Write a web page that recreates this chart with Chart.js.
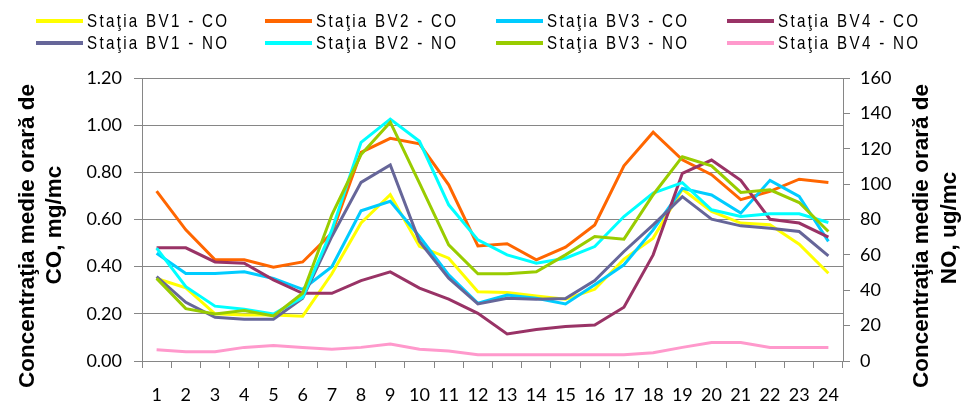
<!DOCTYPE html>
<html>
<head>
<meta charset="utf-8">
<script src="https://cdn.jsdelivr.net/npm/chart.js@4.4.1/dist/chart.umd.min.js"></script>
<style>
    body { margin: 0; background: #fff; }
    #wrap { position: relative; width: 962px; height: 405px; }
    #legend { position: absolute; left: 0; top: 0; width: 962px; height: 60px; }
    .item {
        position: absolute;
        display: flex;
        align-items: center;
        height: 20px;
        color: #000;
        white-space: nowrap;
    }
    .swatch { width: 47px; height: 4px; margin-right: 4px; }
    .text {
        display: inline-block;
        font: 18.5px "Liberation Sans", Arial, sans-serif;
        letter-spacing: 2.8px;
        transform: scaleX(0.82);
        transform-origin: left center;
    }
</style>
</head>
<body>
<div id="wrap">
    <canvas id="chart" width="962" height="405"></canvas>
    <div id="legend"></div>
</div>
<script>
const hours = ["1", "2", "3", "4", "5", "6", "7", "8", "9", "10", "11", "12",
    "13", "14", "15", "16", "17", "18", "19", "20", "21", "22", "23", "24"];

// CO, mg/mc (left axis)
const bv1Co = [0.35, 0.31, 0.20, 0.195, 0.195, 0.19, 0.37, 0.585, 0.705, 0.486, 0.436, 0.294,
    0.29, 0.276, 0.262, 0.304, 0.432, 0.521, 0.728, 0.634, 0.585, 0.578, 0.495, 0.372];
const bv2Co = [0.72, 0.556, 0.429, 0.429, 0.398, 0.42, 0.542, 0.885, 0.944, 0.921, 0.747, 0.488,
    0.497, 0.429, 0.483, 0.577, 0.828, 0.97, 0.853, 0.79, 0.684, 0.719, 0.771, 0.757];
const bv3Co = [0.457, 0.371, 0.371, 0.378, 0.35, 0.304, 0.40, 0.637, 0.677, 0.528, 0.365, 0.245,
    0.28, 0.266, 0.242, 0.323, 0.408, 0.556, 0.732, 0.704, 0.627, 0.766, 0.698, 0.507];
const bv4Co = [0.48, 0.48, 0.42, 0.415, 0.344, 0.287, 0.287, 0.341, 0.378, 0.309, 0.262, 0.202,
    0.115, 0.134, 0.146, 0.153, 0.228, 0.45, 0.796, 0.852, 0.766, 0.601, 0.585, 0.525];

// NO, ug/mc (right axis)
const bv1No = [47.7, 33.2, 24.7, 23.6, 23.6, 35.5, 70.4, 101, 110.8, 67.6, 46.8, 32.3,
    35.5, 34.9, 35.3, 45.5, 61.9, 77, 92.9, 80.2, 76.4, 75.1, 73.2, 59.4];
const bv2No = [63.8, 42, 31, 29.3, 26.6, 36, 74, 123.6, 136.8, 124.2, 88.3, 68.5,
    60, 55.3, 58.1, 64.7, 81.7, 94.9, 100.8, 85.5, 81.7, 83.2, 83.2, 78.3];
const bv3No = [46.7, 29.6, 26.6, 28.5, 25.5, 38.3, 82.7, 116.7, 135, 100.6, 65.7, 49.3,
    49.3, 50.4, 60, 70.4, 68.9, 94, 115.5, 110.3, 95.3, 96.8, 89.6, 73.2];
const bv4No = [6.4, 5.3, 5.3, 7.7, 8.7, 7.7, 6.6, 7.7, 9.6, 6.6, 5.7, 3.6,
    3.6, 3.6, 3.6, 3.6, 3.6, 4.7, 7.7, 10.4, 10.4, 7.7, 7.7, 7.7];

const coTicks = [0, 0.2, 0.4, 0.6, 0.8, 1.0, 1.2];
const noTicks = [0, 20, 40, 60, 80, 100, 120, 140, 160];

const coTitle = ["Concentraţia medie orară de", "CO, mg/mc"];
const noTitle = ["Concentraţia medie orară de", "NO, ug/mc"];

const series = [
    { label: "Staţia BV1 - CO", data: bv1Co, color: "#FFFF00", axis: "yCo" },
    { label: "Staţia BV2 - CO", data: bv2Co, color: "#FF6600", axis: "yCo" },
    { label: "Staţia BV3 - CO", data: bv3Co, color: "#00CCFF", axis: "yCo" },
    { label: "Staţia BV4 - CO", data: bv4Co, color: "#993366", axis: "yCo" },
    { label: "Staţia BV1 - NO", data: bv1No, color: "#666699", axis: "yNo" },
    { label: "Staţia BV2 - NO", data: bv2No, color: "#00FFFF", axis: "yNo" },
    { label: "Staţia BV3 - NO", data: bv3No, color: "#99CC00", axis: "yNo" },
    { label: "Staţia BV4 - NO", data: bv4No, color: "#FF99CC", axis: "yNo" }
];

const gridGrey = "#868686";
const tickFont = { family: "Lato", size: 18 };

// legend, 4 columns x 2 rows like the original
const legendBox = document.getElementById("legend");
const colX = [36, 265, 496, 727];
const rowY = [11, 33];
series.forEach((s, i) => {
    const item = document.createElement("div");
    item.className = "item";
    item.style.left = colX[i % 4] + "px";
    item.style.top = rowY[Math.floor(i / 4)] + "px";
    item.innerHTML = `<span class="swatch" style="background:${s.color}"></span><span class="text">${s.label}</span>`;
    legendBox.appendChild(item);
});

const axisTitles = {
    id: "axisTitles",
    afterDraw(chart) {
        const ctx = chart.ctx;
        ctx.save();
        ctx.font = "bold 22.5px 'Liberation Sans', Arial, sans-serif";
        ctx.fillStyle = "#000";
        ctx.textAlign = "center";
        ctx.textBaseline = "alphabetic";
        const spots = [
            [coTitle[0], 34, 236], [coTitle[1], 61, 225],
            [noTitle[0], 928, 236], [noTitle[1], 956, 228]
        ];
        spots.forEach(([text, x, y]) => {
            ctx.save();
            ctx.translate(x, y);
            ctx.rotate(-Math.PI / 2);
            ctx.fillText(text, 0, 0);
            ctx.restore();
        });
        ctx.restore();
    }
};

new Chart(document.getElementById("chart").getContext("2d"), {
    type: "line",
    data: {
        labels: hours,
        datasets: series.map((s, i) => ({
            label: s.label,
            data: s.data,
            yAxisID: s.axis,
            borderColor: s.color,
            backgroundColor: s.color,
            borderWidth: 3,
            pointRadius: 0,
            tension: 0,
            order: series.length - i
        }))
    },
    options: {
        responsive: false,
        animation: false,
        layout: { padding: { top: 78, left: 0, right: 0, bottom: 0 } },
        plugins: {
            legend: { display: false },
            tooltip: { enabled: false }
        },
        scales: {
            x: {
                offset: true,
                grid: { offset: true, drawOnChartArea: false, tickLength: 7, color: gridGrey },
                border: { color: gridGrey },
                ticks: { font: tickFont, color: "#000", padding: 16, maxRotation: 0, autoSkip: false },
                afterFit: s => { s.height = 44; }
            },
            yCo: {
                position: "left",
                min: 0,
                max: 1.2,
                afterBuildTicks: s => { s.ticks = coTicks.map(v => ({ value: v })); },
                ticks: { font: tickFont, color: "#000", padding: 12, callback: v => v.toFixed(2) },
                grid: {
                    tickLength: 8,
                    color: c => (c.tick && Math.abs(c.tick.value - 1.2) < 1e-6 && c.type !== "tick") ? "#c8c8c8" : gridGrey
                },
                border: { color: gridGrey },
                afterFit: s => { s.width = 142; }
            },
            yNo: {
                position: "right",
                min: 0,
                max: 160,
                afterBuildTicks: s => { s.ticks = noTicks.map(v => ({ value: v })); },
                ticks: { font: tickFont, color: "#000", padding: 10 },
                grid: { drawOnChartArea: false, tickLength: 7, color: gridGrey },
                border: { color: gridGrey },
                afterFit: s => { s.width = 119; }
            }
        }
    },
    plugins: [axisTitles]
});
</script>
</body>
</html>
